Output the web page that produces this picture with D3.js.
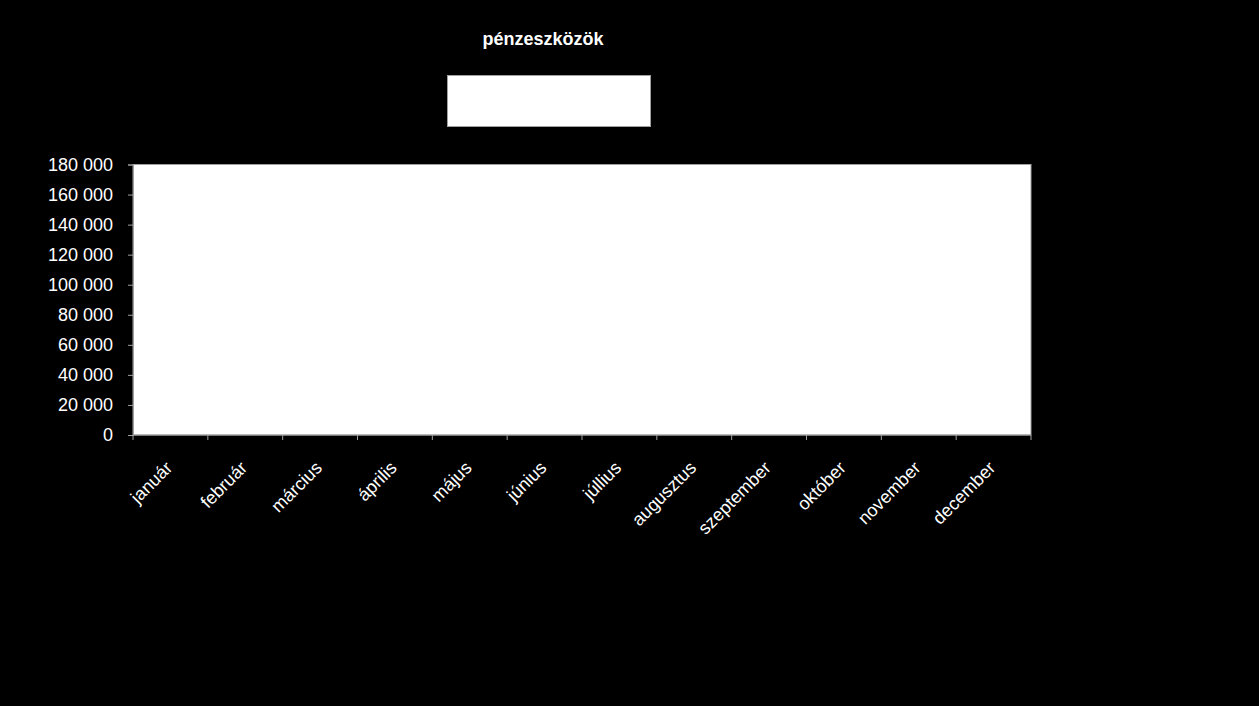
<!DOCTYPE html>
<html>
<head>
<meta charset="utf-8">
<script src="https://cdn.jsdelivr.net/npm/d3@7"></script>
<style>
  html, body { margin: 0; padding: 0; background: #000; }
  svg text { font-family: "Liberation Sans", Arial, sans-serif; fill: #fff; }
</style>
</head>
<body>
<div id="chart"></div>
<script>
// chart data
const months = ["január", "február", "március", "április", "május", "június",
                "júllius", "augusztus", "szeptember", "október", "november", "december"];
const seriesName = "";
const values = [0, 0, 0, 0, 0, 0, 0, 0, 0, 0, 0, 0];
const yTicks = [0, 20000, 40000, 60000, 80000, 100000, 120000, 140000, 160000, 180000];

const width = 1259, height = 706;
const margin = { top: 164.5, right: 228, bottom: 271, left: 133 };

const svg = d3.select("#chart").append("svg")
    .attr("width", width)
    .attr("height", height);

svg.append("rect")
    .attr("width", width)
    .attr("height", height)
    .attr("fill", "#000");

const x = d3.scaleBand()
    .domain(months)
    .range([margin.left, width - margin.right]);

const y = d3.scaleLinear()
    .domain([0, 180000])
    .range([height - margin.bottom, margin.top]);

// plot area
svg.append("rect")
    .attr("x", margin.left)
    .attr("y", margin.top)
    .attr("width", width - margin.left - margin.right)
    .attr("height", height - margin.top - margin.bottom)
    .attr("fill", "#fff")
    .attr("stroke", "#a0a0a0")
    .attr("stroke-width", 1);

// bars (all values empty/zero)
svg.append("g")
    .selectAll("rect")
    .data(values)
    .enter().append("rect")
    .attr("x", (d, i) => x(months[i]) + x.bandwidth() * 0.2)
    .attr("y", d => y(d))
    .attr("width", x.bandwidth() * 0.6)
    .attr("height", d => y(0) - y(d))
    .attr("fill", "#000");

const fmt = d => d3.format(",")(d).replace(/,/g, " ");

// y axis
const yAxis = svg.append("g")
    .attr("transform", `translate(${margin.left},0)`)
    .call(d3.axisLeft(y).tickValues(yTicks).tickFormat(fmt).tickSize(5).tickPadding(15));
yAxis.select(".domain").attr("stroke", "#a0a0a0");
yAxis.selectAll(".tick line").attr("stroke", "#a0a0a0");
yAxis.selectAll(".tick text")
    .attr("fill", "#fff")
    .style("font-size", "18px")
    .attr("dy", "0.33em");

// x axis with ticks between categories
const xg = svg.append("g")
    .attr("transform", `translate(0,${y(0)})`);
xg.append("line")
    .attr("x1", margin.left).attr("x2", width - margin.right)
    .attr("stroke", "#a0a0a0");
const bounds = months.map(m => x(m)).concat([x(months[11]) + x.bandwidth()]);
xg.selectAll(".xtick")
    .data(bounds)
    .enter().append("line")
    .attr("x1", d => d).attr("x2", d => d)
    .attr("y1", 0).attr("y2", 5)
    .attr("stroke", "#a0a0a0");
xg.selectAll(".xlabel")
    .data(months)
    .enter().append("text")
    .attr("text-anchor", "end")
    .attr("transform", d => `translate(${x(d) + x.bandwidth() / 2 + 3},${34}) rotate(-45)`)
    .style("font-size", "18px")
    .text(d => d);

// title
svg.append("text")
    .attr("x", 543)
    .attr("y", 45)
    .attr("text-anchor", "middle")
    .style("font-size", "18px")
    .style("font-weight", "bold")
    .text("pénzeszközök");

// legend box (series has no name)
svg.append("rect")
    .attr("x", 447.5)
    .attr("y", 75.5)
    .attr("width", 203)
    .attr("height", 51)
    .attr("fill", "#fff")
    .attr("stroke", "#a0a0a0");
svg.append("text")
    .attr("x", 549)
    .attr("y", 106)
    .attr("text-anchor", "middle")
    .style("font-size", "18px")
    .text(seriesName);
</script>
</body>
</html>
